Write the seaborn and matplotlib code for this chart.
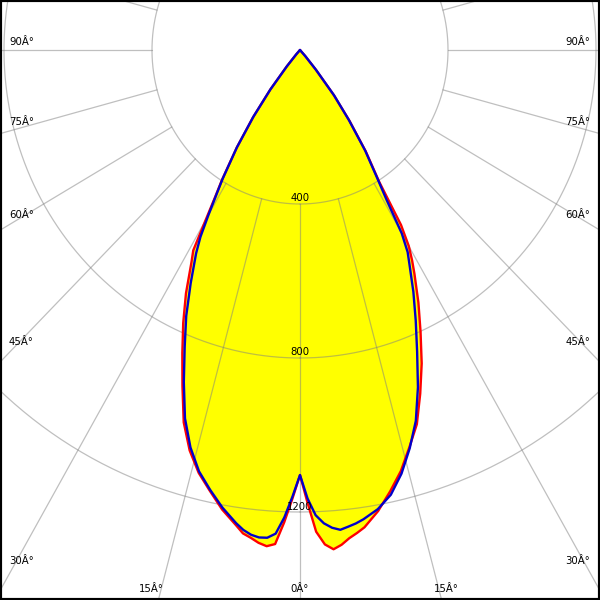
import numpy as np
import pandas as pd
import matplotlib
matplotlib.use("Agg")
import matplotlib.pyplot as plt
import seaborn as sns

# ---- data (candela, gamma angle in degrees from nadir) ----
gamma = [0, 1, 2, 3, 4, 5, 6, 7, 8, 10, 12, 14, 16, 18, 20, 22, 24, 26, 28, 29,
         30, 31, 32, 34, 36, 38, 40, 42, 45, 60, 90, 120, 150, 180]
# red curve (C0 right half / C180 left half)
red_right = [1104, 1177, 1252, 1286, 1300, 1290, 1275, 1264, 1252, 1216, 1172, 1127,
             1073, 1022, 950, 878, 801, 730, 659, 625, 588, 530, 405, 318, 228, 148,
             66, 20, 0, 0, 0, 0, 0, 0]
red_left = [1104, 1165, 1228, 1285, 1292, 1285, 1274, 1265, 1246, 1212, 1171, 1132,
            1082, 1017, 929, 849, 776, 703, 625, 595, 510, 445, 398, 305, 215, 130,
            55, 15, 0, 0, 0, 0, 0, 0]
# blue curve (C90 right half / C270 left half)
blue_right = [1104, 1165, 1209, 1231, 1244, 1251, 1245, 1239, 1231, 1211, 1181, 1134,
              1076, 1013, 932, 845, 769, 699, 630, 600, 550, 455, 398, 315, 225, 150,
              68, 22, 0, 0, 0, 0, 0, 0]
blue_left = [1104, 1160, 1215, 1258, 1270, 1271, 1266, 1256, 1241, 1207, 1168, 1128,
             1074, 1006, 918, 832, 756, 674, 598, 555, 495, 440, 395, 305, 215, 130,
             55, 15, 0, 0, 0, 0, 0, 0]

ring_values = [400, 800, 1200]
ring_labels = ["400", "800", "1200"]
side_labels = ["90Â°", "75Â°", "60Â°", "45Â°", "30Â°"]
bottom_labels = ["15Â°", "0Â°", "15Â°"]


def outline(right, left):
    g = np.deg2rad(np.array(gamma, dtype=float))
    r = np.array(right, dtype=float)
    l = np.array(left, dtype=float)
    xr, yr = r * np.sin(g), -r * np.cos(g)
    xl, yl = -l * np.sin(g), -l * np.cos(g)
    return np.concatenate([xr[::-1], xl]), np.concatenate([yr[::-1], yl])


xr_, yr_ = outline(red_right, red_left)
xb_, yb_ = outline(blue_right, blue_left)
df = pd.concat([
    pd.DataFrame({"x": xr_, "y": yr_, "plane": "C0-C180"}),
    pd.DataFrame({"x": xb_, "y": yb_, "plane": "C90-C270"}),
], ignore_index=True)

sns.set_style("white")
fig = plt.figure(figsize=(6, 6), dpi=100)
ax = fig.add_axes([0, 0, 1, 1])

# yellow fill (union of both curves)
ax.fill(xr_, yr_, color="#FFFF00", lw=0, zorder=1)
ax.fill(xb_, yb_, color="#FFFF00", lw=0, zorder=1)

# grid: rings and radial lines (radials start at the first ring)
th = np.linspace(0, 2 * np.pi, 721)
for rv in ring_values:
    ax.plot(rv * np.sin(th), -rv * np.cos(th), color="#808080", alpha=0.5,
            lw=0.9, zorder=2)
for a in range(0, 360, 15):
    ar = np.deg2rad(a)
    ax.plot([ring_values[0] * np.sin(ar), 3000 * np.sin(ar)],
            [-ring_values[0] * np.cos(ar), -3000 * np.cos(ar)],
            color="#808080", alpha=0.5, lw=0.9, zorder=2)

sns.lineplot(data=df, x="x", y="y", hue="plane", hue_order=["C0-C180", "C90-C270"],
             palette={"C0-C180": "#FF0000", "C90-C270": "#0000CC"},
             sort=False, estimator=None, legend=False, lw=1.7, ax=ax, zorder=3)

ax.set_xlim(-810.8, 810.8)
ax.set_ylim(-1428.6, 129.9)
ax.set_xticks([])
ax.set_yticks([])
ax.set_xlabel("")
ax.set_ylabel("")
for s in ax.spines.values():
    s.set_visible(True)
    s.set_color("black")
    s.set_linewidth(3)


def px(xp, yp):
    return xp / 600.0, 1 - yp / 600.0


fs = 7.3
side_y = [42, 122, 215, 342, 561]
for lab, yy in zip(side_labels, side_y):
    ax.text(*px(9, yy), lab, transform=ax.transAxes, ha="left", va="center",
            fontsize=fs, color="black", zorder=5)
    ax.text(*px(590, yy), lab, transform=ax.transAxes, ha="right", va="center",
            fontsize=fs, color="black", zorder=5)
for lab, xx in zip(bottom_labels, [151, 300, 446]):
    ax.text(*px(xx, 589), lab, transform=ax.transAxes, ha="center", va="center",
            fontsize=fs, color="black", zorder=5)
for lab, yy in zip(ring_labels, [198, 352, 507]):
    ax.text(*px(300, yy), lab, transform=ax.transAxes, ha="center", va="center",
            fontsize=fs, color="black", zorder=5)

fig.savefig("out.png", dpi=100)
